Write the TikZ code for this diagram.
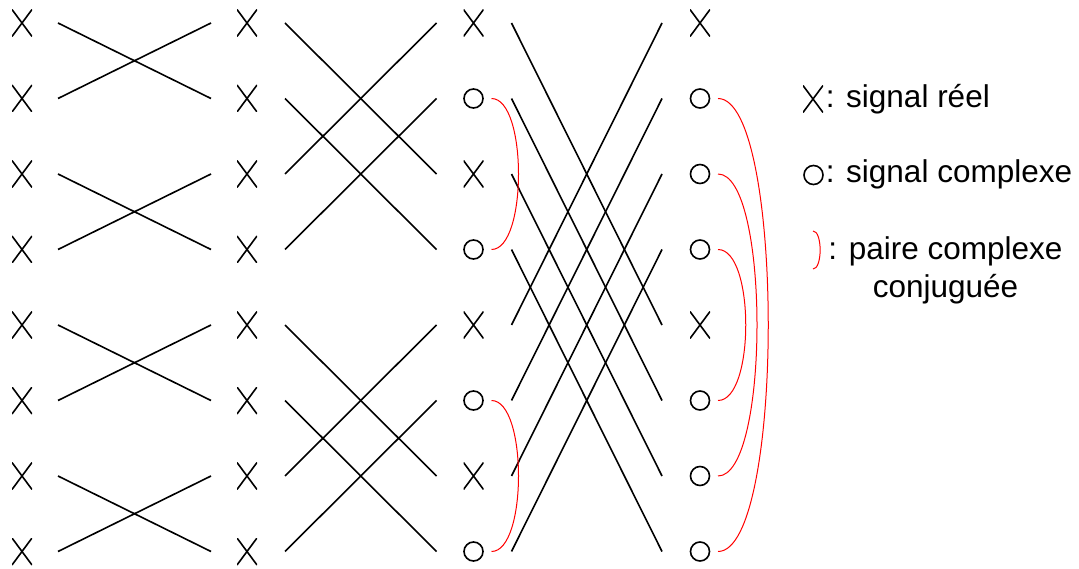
\documentclass[tikz,border=0pt]{standalone}
\usepackage{fontspec}
\setmainfont{Liberation Sans}
\begin{document}
\begin{tikzpicture}[x=1pt,y=-1pt, line width=1.6pt,
    every node/.style={font=\fontsize{31.5}{38}\selectfont},
    reel/.style={minimum width=20pt, minimum height=27pt, inner sep=0pt,
        path picture={\draw[line width=1.6pt] (path picture bounding box.north west) -- (path picture bounding box.south east)
            (path picture bounding box.north east) -- (path picture bounding box.south west);}},
    cplx/.style={circle, draw, minimum size=19pt, inner sep=0pt},
    paire/.style={red, line width=1pt}]
    \useasboundingbox (0,0) rectangle (1079,569);

    % columns of signals
    \foreach \r in {0,...,7} {
        \node[reel] (a\r) at (22, 23+75.5*\r) {};
        \node[reel] (b\r) at (247, 23+75.5*\r) {};
    }
    \foreach \r/\t in {0/reel,1/cplx,2/reel,3/cplx,4/reel,5/cplx,6/reel,7/cplx}
        \node[\t] (c\r) at (473.5, 23+75.5*\r) {};
    \foreach \r/\t in {0/reel,1/cplx,2/cplx,3/cplx,4/reel,5/cplx,6/cplx,7/cplx}
        \node[\t] (d\r) at (700, 23+75.5*\r) {};

    % butterflies
    \foreach \i/\j in {0/1,2/3,4/5,6/7} {
        \draw ([xshift=36]a\i.center) -- ([xshift=-36]b\j.center);
        \draw ([xshift=36]a\j.center) -- ([xshift=-36]b\i.center);
    }
    \foreach \i/\j in {0/2,1/3,4/6,5/7} {
        \draw ([xshift=38]b\i.center) -- ([xshift=-37]c\j.center);
        \draw ([xshift=38]b\j.center) -- ([xshift=-37]c\i.center);
    }
    \foreach \i/\j in {0/4,1/5,2/6,3/7} {
        \draw ([xshift=38]c\i.center) -- ([xshift=-38]d\j.center);
        \draw ([xshift=38]c\j.center) -- ([xshift=-38]d\i.center);
    }

    % conjugate pairs
    \draw[paire] ([xshift=18]c1.center) .. controls +(36,0) and +(36,0) .. ([xshift=18]c3.center);
    \draw[paire] ([xshift=18]c5.center) .. controls +(36,0) and +(36,0) .. ([xshift=18]c7.center);
    \draw[paire] ([xshift=18]d1.center) .. controls +(67,0) and +(67,0) .. ([xshift=18]d7.center);
    \draw[paire] ([xshift=18]d2.center) .. controls +(52,0) and +(52,0) .. ([xshift=18]d6.center);
    \draw[paire] ([xshift=18]d3.center) .. controls +(37,0) and +(37,0) .. ([xshift=18]d5.center);

    % legend
    \node[reel] (lreel) at (813,99) {};
    \node[anchor=base west, inner sep=0pt] (treel) at (825,108) {: signal réel};
    \node[cplx] (lcplx) at (813.5,175) {};
    \node[anchor=base west, inner sep=0pt] (tcplx) at (825,183) {: signal complexe};
    \coordinate (ptop) at (813,231);
    \coordinate (pbot) at (813,269);
    \draw[paire] (ptop) .. controls +(9.5,0) and +(9.5,0) .. (pbot);
    \node[align=center, inner sep=0pt] (tpaire) at (945.5,270) {: paire complexe\\conjuguée};
\end{tikzpicture}
\end{document}
